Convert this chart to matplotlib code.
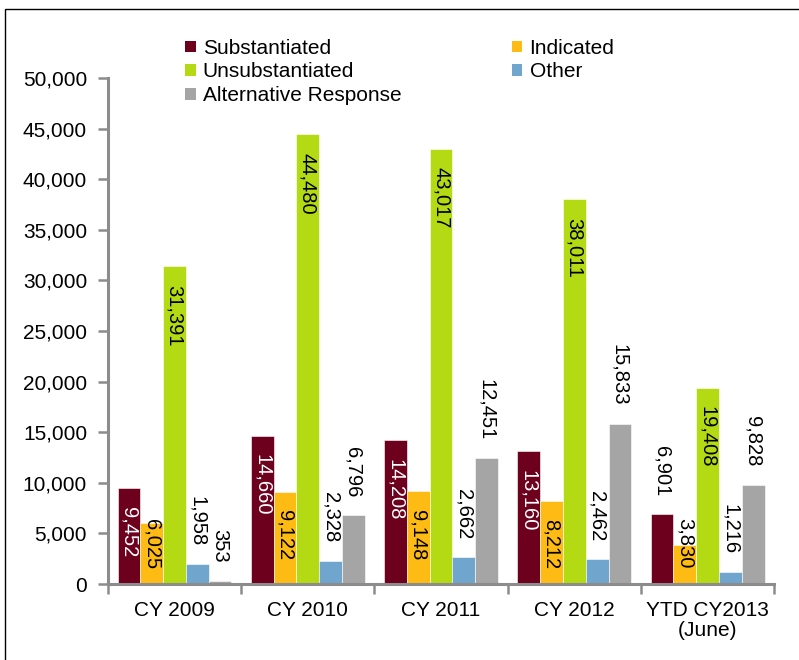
import matplotlib.pyplot as plt
from matplotlib.patches import Rectangle, Patch
import numpy as np

plt.rcParams['font.family'] = ['Liberation Sans', 'DejaVu Sans']

categories = ['CY 2009', 'CY 2010', 'CY 2011', 'CY 2012', 'YTD CY2013\n(June)']
series_names = ['Substantiated', 'Indicated', 'Unsubstantiated', 'Other', 'Alternative Response']
substantiated = [9452, 14660, 14208, 13160, 6901]
indicated = [6025, 9122, 9148, 8212, 3830]
unsubstantiated = [31391, 44480, 43017, 38011, 19408]
other = [1958, 2328, 2662, 2462, 1216]
alternative = [353, 6796, 12451, 15833, 9828]
colors = ['#6d001c', '#fdbb13', '#b4da14', '#70a6cd', '#a5a5a5']

# where each label sits: 'in' = inside end of bar, 'out' = above bar
label_pos = [
    ['in', 'in', 'in', 'in', 'out'],
    ['in', 'in', 'in', 'in', 'in'],
    ['in', 'in', 'in', 'in', 'in'],
    ['out', 'out', 'out', 'out', 'out'],
    ['out', 'out', 'out', 'out', 'out'],
]


def main():
    fig = plt.figure(figsize=(7.99, 6.60), dpi=100)
    ax = fig.add_axes([0.135, 0.115, 0.834, 0.767])

    data = [substantiated, indicated, unsubstantiated, other, alternative]
    x = np.arange(len(categories))
    bw = 0.171
    axis_gray = '#8c8c8c'
    fs = 14.5

    for i, vals in enumerate(data):
        xs = x + (i - 2) * bw
        ax.bar(xs, vals, width=bw, color=colors[i], edgecolor='white', linewidth=0.4)
        for j, v in enumerate(vals):
            txt = f'{v:,}'
            if label_pos[i][j] == 'in':
                tc = 'white' if i == 0 else 'black'
                if v < 8500:
                    # too short for the label: push it up off the axis
                    ax.annotate(txt, (xs[j], 0), xytext=(0, 11), textcoords='offset points',
                                rotation=-90, ha='center', va='bottom', fontsize=fs, color=tc)
                else:
                    ax.annotate(txt, (xs[j], v), xytext=(0, -13.5), textcoords='offset points',
                                rotation=-90, ha='center', va='top', fontsize=fs, color=tc)
            else:
                ax.annotate(txt, (xs[j], v), xytext=(0, 13), textcoords='offset points',
                            rotation=-90, ha='center', va='bottom', fontsize=fs, color='black')

    ax.set_xlim(-0.5, len(categories) - 0.5)
    ax.set_ylim(0, 50000)
    ax.set_yticks(np.arange(0, 50001, 5000))
    ax.set_yticklabels([f'{int(t):,}' for t in np.arange(0, 50001, 5000)], fontsize=15)
    ax.set_xticks(x)
    ax.set_xticklabels(categories, fontsize=15, linespacing=1.05)
    ax.tick_params(axis='x', length=0, pad=12)
    ax.set_xticks(np.arange(-0.5, len(categories)), minor=True)
    ax.tick_params(axis='x', which='minor', length=7, width=1.8, color=axis_gray, direction='out')
    ax.tick_params(axis='y', length=7, width=1.8, color=axis_gray, direction='out', pad=8)

    for s in ['top', 'right']:
        ax.spines[s].set_visible(False)
    for s in ['left', 'bottom']:
        ax.spines[s].set_color(axis_gray)
        ax.spines[s].set_linewidth(2.2)

    handles = [Patch(facecolor=c) for c in colors]
    order = [0, 2, 4, 1, 3]
    ax.legend([handles[k] for k in order], [series_names[k] for k in order],
              ncol=2, loc='upper left', bbox_to_anchor=(0.116, 1.077), frameon=False,
              fontsize=15, handlelength=0.5, handleheight=0.5, handletextpad=0.35,
              columnspacing=5.3, labelspacing=0.22, borderaxespad=0, borderpad=0)

    # thin frame around chart area
    fig.patches.append(Rectangle((5 / 799, -0.1), 1.2, 1 - 9 / 660 + 0.1, transform=fig.transFigure,
                                 fill=False, edgecolor='black', linewidth=1.0))

    fig.savefig('out.png', dpi=100)
    plt.close('all')


if __name__ == '__main__':
    main()
